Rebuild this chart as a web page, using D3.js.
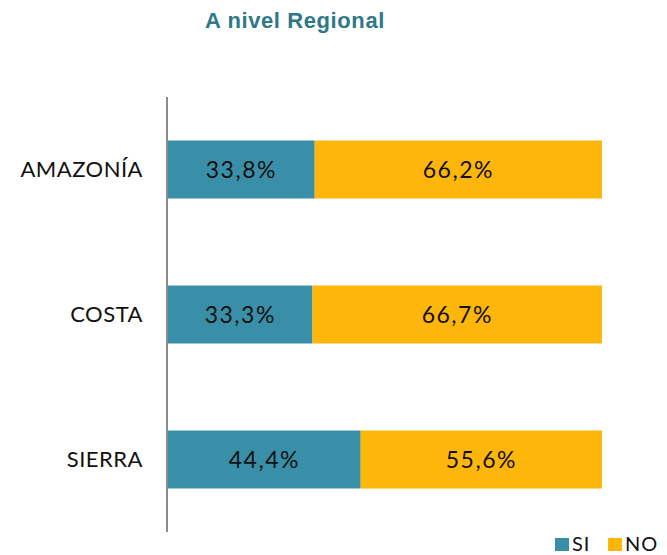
<!DOCTYPE html>
<html>
<head>
<meta charset="utf-8">
<script src="https://cdn.jsdelivr.net/npm/d3@7"></script>
<style>
  body { margin: 0; background: #fff; }
</style>
</head>
<body>
<svg width="667" height="555"></svg>
<script>
// data
var regions = ["AMAZONÍA", "COSTA", "SIERRA"];
var siValues = [33.8, 33.3, 44.4];
var noValues = [66.2, 66.7, 55.6];
var seriesNames = ["SI", "NO"];
var seriesColors = ["#3A8FA8", "#FFB60A"];

var svg = d3.select("svg");
var labelFont = "Lato, 'Noto Sans', sans-serif";

svg.append("text")
   .attr("x", 295)
   .attr("y", 28)
   .attr("text-anchor", "middle")
   .attr("font-family", "'Liberation Sans', Arial, sans-serif")
   .attr("font-weight", "bold")
   .attr("font-size", "22px")
   .attr("letter-spacing", "0.6px")
   .attr("fill", "#2F7888")
   .text("A nivel Regional");

var xScale = d3.scaleLinear().domain([0, 100]).range([168, 602]);
var yScale = d3.scaleBand().domain(regions).range([97, 532])
   .paddingInner(0.6).paddingOuter(0.3);

var rows = regions.map(function(r, i) {
  return { region: r, SI: siValues[i], NO: noValues[i] };
});
var stacked = d3.stack().keys(seriesNames)(rows);

var fmt = function(v) { return v.toFixed(1).replace(".", ",") + "%"; };

stacked.forEach(function(layer, k) {
  var g = svg.append("g");
  g.selectAll("rect")
   .data(layer)
   .enter()
   .append("rect")
   .attr("fill", seriesColors[k])
   .attr("x", function(d) { return xScale(d[0]); })
   .attr("y", function(d) { return yScale(d.data.region); })
   .attr("width", function(d) { return xScale(d[1]) - xScale(d[0]); })
   .attr("height", yScale.bandwidth());

  g.selectAll("text")
   .data(layer)
   .enter()
   .append("text")
   .attr("x", function(d) { return (xScale(d[0]) + xScale(d[1])) / 2; })
   .attr("y", function(d) { return yScale(d.data.region) + yScale.bandwidth() / 2; })
   .attr("dy", "0.36em")
   .attr("text-anchor", "middle")
   .attr("font-family", labelFont)
   .attr("font-size", "23px")
   .attr("letter-spacing", "1.5px")
   .attr("fill", "#111")
   .text(function(d) { return fmt(d[1] - d[0]); });
});

// category axis
var axis = svg.append("g")
   .attr("transform", "translate(167,0)")
   .call(d3.axisLeft(yScale).tickSize(0).tickPadding(24));
axis.select(".domain").attr("stroke", "#8c8c8c").attr("stroke-width", 2)
   .attr("d", "M0,97V532");
axis.selectAll("text")
   .attr("font-family", labelFont)
   .attr("font-size", "22px")
   .attr("letter-spacing", "0.5px")
   .attr("fill", "#111");

// legend
var legend = svg.append("g");
var legendX = [555, 608];
seriesNames.forEach(function(name, i) {
  legend.append("rect")
     .attr("x", legendX[i])
     .attr("y", 538)
     .attr("width", 14)
     .attr("height", 13)
     .attr("fill", seriesColors[i]);
  legend.append("text")
     .attr("x", legendX[i] + 17)
     .attr("y", 551)
     .attr("font-family", labelFont)
     .attr("font-size", "20px")
     .attr("letter-spacing", "1px")
     .attr("fill", "#111")
     .text(name);
});
</script>
</body>
</html>
